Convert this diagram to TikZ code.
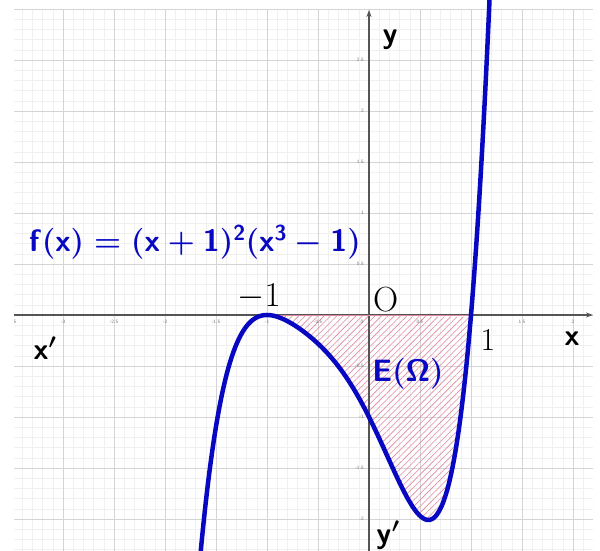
\RequirePackage{fix-cm}
\documentclass[tikz,border=0pt]{standalone}
\usetikzlibrary{patterns.meta,arrows.meta}
\definecolor{curveblue}{RGB}{8,8,195}
\definecolor{hatchpink}{RGB}{225,135,160}
\definecolor{axisgray}{RGB}{85,85,85}
\begin{document}
\begin{tikzpicture}[x=102bp,y=102bp,
  minorgrid/.style={draw=black!6,line width=0.5bp},
  majorgrid/.style={draw=black!17,line width=0.9bp},
  axisline/.style={draw=axisgray,line width=1.3bp,-{Stealth[length=7bp,width=5bp]}},
  ticklbl/.style={font=\fontsize{5}{6}\selectfont\sffamily,text=black!55,inner sep=0pt},
  romlbl/.style={font=\fontsize{35}{40}\selectfont,inner sep=0pt},
  sflbl/.style={font=\fontsize{30}{36}\selectfont\sffamily\bfseries,inner sep=0pt},
  bluelbl/.style={font=\fontsize{31}{36}\selectfont,text=curveblue,inner sep=0pt},
  curvestyle/.style={draw=curveblue,line width=4.5bp},
  declare function={f(\t)=(\t+1)*(\t+1)*(\t*\t*\t-1);}
]
\useasboundingbox (-3.6176,-2.3137) rectangle (2.2647,3.0882);
\fill[white] (-3.6176,-2.3137) rectangle (2.2647,3.0882);
\clip (-3.6176,-2.3137) rectangle (2.2647,3.0882);
% grid
\draw[minorgrid,step=0.1] (-3.48,-2.3137) grid (2.2,3.0);
\draw[majorgrid,step=0.5] (-3.48,-2.3137) grid (2.2,3.0);
% hatched region
\path[pattern={Lines[angle=45,distance=4.5bp,line width=0.6bp]},pattern color=hatchpink]
  plot[domain=-1:1,samples=150] (\x,{f(\x)}) -- cycle;
% axes
\coordinate (xl) at (-3.48,0);
\coordinate (xr) at (2.196,0);
\coordinate (yb) at (0,-2.3137);
\coordinate (yt) at (0,2.99);
\coordinate (rl) at (-1,0);
\coordinate (rr) at (1,0);
\draw[axisline] (xl) -- (xr);
\draw[axisline] (yb) -- (yt);
\draw[hatchpink,line width=0.9bp] (rl) -- (rr);
% tick labels
\begin{scope}
\clip (-3.48,-2.3137) rectangle (2.2,3.0);
\foreach \v/\t in {-3.5/-3.5,-3/-3,-2.5/-2.5,-2/-2,-1.5/-1.5,-1/-1,-0.5/-0.5,0.5/0.5,1/1,1.5/1.5,2/2}
  \node[ticklbl] (tx\t) at (\v,-0.065) {\t};
\node[ticklbl] (tx0) at (-0.07,-0.065) {0};
\foreach \v/\t in {2.5/2.5,2/2,1.5/1.5,1/1,0.5/0.5,-0.5/-0.5,-1/-1,-1.5/-1.5,-2/-2}
  \node[ticklbl,anchor=east] (ty\t) at (-0.05,\v) {\t};
\end{scope}
% curve
\draw[curvestyle] plot[domain=-1.67:1.2,samples=250,smooth] (\x,{f(\x)});
% labels
\node[sflbl] (ylab) at (0.206,2.696) {y};
\node[sflbl] (xplab) at (-3.176,-0.324) {{\boldmath$\mathsf{x}'$}};
\node[romlbl] (m1lab) at (-1.078,0.181) {$-1$};
\node[romlbl] (olab) at (0.172,0.147) {O};
\node[romlbl,font=\fontsize{32}{38}\selectfont] (onelab) at (1.167,-0.245) {1};
\node[sflbl] (xlab) at (1.99,-0.235) {x};
\node[sflbl] (yplab) at (0.186,-2.157) {{\boldmath$\mathsf{y}'$}};
\node[bluelbl] (elab) at (0.382,-0.578) {{\boldmath$\mathsf{E(\Omega)}$}};
\node[bluelbl] (flab) at (-1.706,0.716)
  {{\boldmath$\mathsf{f(x)}=\mathsf{(x+1)^{2}(x^{3}-1)}$}};
\end{tikzpicture}
\end{document}
